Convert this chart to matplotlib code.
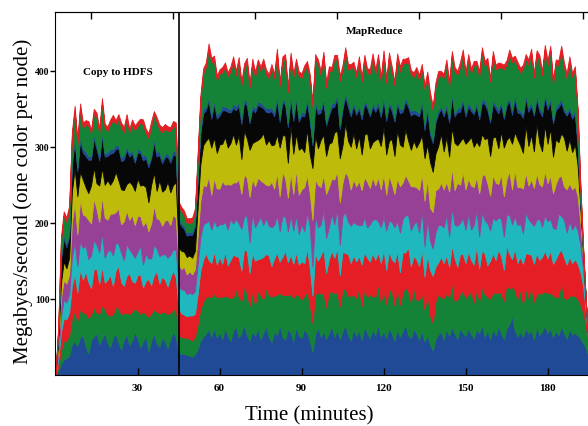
import matplotlib
matplotlib.use("Agg")
import matplotlib.pyplot as plt
import numpy as np

plt.rcParams['font.family'] = ['Liberation Serif', 'DejaVu Serif']

# time axis, one sample per minute
minutes = np.arange(200)

# throughput per node (MB/s), bottom layer first
node1 = [0, 4, 14, 20, 22, 25, 40, 44, 38, 50,
         52, 38, 28, 46, 50, 55, 40, 47, 56, 42,
         36, 49, 54, 43, 33, 47, 53, 39, 45, 56,
         48, 36, 44, 51, 31, 45, 54, 41, 37, 49,
         44, 35, 47, 56, 50, 30, 27, 28, 26, 25,
         24, 27, 34, 45, 50, 54, 60, 50, 62, 49,
         56, 47, 61, 52, 44, 58, 63, 49, 55, 66,
         52, 45, 58, 51, 61, 47, 55, 64, 50, 43,
         57, 52, 66, 50, 46, 60, 55, 44, 63, 52,
         48, 60, 55, 45, 30, 53, 62, 50, 57, 47,
         55, 64, 50, 59, 47, 57, 66, 52, 45, 60,
         51, 58, 46, 63, 55, 48, 60, 52, 65, 50,
         57, 48, 62, 54, 45, 60, 50, 57, 66, 52,
         48, 60, 55, 46, 58, 44, 52, 40, 32, 47,
         53, 57, 46, 60, 51, 63, 54, 47, 61, 55,
         51, 62, 53, 48, 60, 55, 66, 50, 58, 47,
         60, 52, 64, 55, 47, 61, 66, 78, 58, 50,
         57, 49, 62, 54, 59, 46, 63, 52, 57, 65,
         54, 61, 49, 58, 52, 64, 55, 47, 60, 53,
         55, 52, 48, 42, 35, 24, 12, 4, 0, 0]
node2 = [0, 6, 18, 24, 23, 27, 35, 40, 33, 37,
         30, 43, 47, 33, 39, 27, 40, 44, 31, 37,
         42, 30, 36, 44, 47, 34, 28, 41, 38, 31,
         37, 44, 39, 29, 45, 36, 32, 42, 44, 33,
         39, 45, 34, 29, 38, 24, 22, 21, 23, 22,
         21, 23, 32, 42, 46, 48, 43, 52, 45, 53,
         47, 55, 43, 51, 57, 44, 50, 54, 42, 51,
         55, 46, 52, 41, 50, 58, 44, 51, 55, 60,
         47, 53, 42, 55, 59, 45, 51, 57, 43, 52,
         51, 44, 55, 48, 38, 53, 46, 57, 50, 42,
         53, 46, 57, 50, 43, 55, 48, 52, 59, 45,
         50, 57, 44, 52, 47, 58, 43, 51, 55, 46,
         52, 45, 50, 57, 46, 54, 42, 52, 49, 58,
         47, 55, 44, 52, 50, 42, 55, 38, 36, 50,
         53, 45, 55, 47, 51, 58, 43, 52, 46, 56,
         50, 44, 57, 47, 53, 42, 50, 56, 45, 53,
         48, 56, 44, 53, 50, 58, 47, 38, 53, 50,
         55, 44, 52, 47, 58, 50, 42, 56, 50, 45,
         53, 47, 56, 44, 51, 58, 47, 52, 44, 51,
         49, 48, 45, 40, 30, 12, 3, 1, 0, 0]
node3 = [0, 9, 24, 30, 28, 30, 42, 48, 37, 52,
         43, 55, 47, 35, 50, 57, 40, 51, 34, 46,
         53, 38, 47, 56, 42, 36, 49, 54, 40, 34,
         46, 52, 32, 43, 50, 37, 45, 53, 39, 47,
         42, 36, 47, 52, 40, 34, 32, 30, 28, 31,
         33, 30, 40, 50, 55, 58, 48, 45, 55, 43,
         52, 44, 58, 41, 50, 56, 43, 52, 40, 49,
         55, 43, 50, 58, 41, 48, 56, 44, 52, 40,
         49, 56, 41, 50, 58, 43, 52, 45, 55, 41,
         50, 43, 56, 48, 36, 53, 42, 50, 58, 45,
         44, 53, 47, 57, 41, 50, 46, 55, 43, 52,
         48, 41, 55, 46, 52, 43, 57, 48, 41, 51,
         55, 45, 50, 41, 57, 48, 43, 52, 46, 58,
         48, 41, 53, 45, 57, 43, 50, 60, 62, 45,
         42, 53, 46, 50, 40, 49, 56, 43, 52, 48,
         46, 56, 41, 50, 57, 43, 48, 53, 41, 50,
         52, 43, 57, 48, 41, 51, 46, 36, 55, 47,
         43, 53, 46, 58, 41, 50, 55, 43, 48, 53,
         46, 55, 41, 50, 57, 43, 52, 46, 51, 43,
         48, 46, 42, 35, 18, 4, 0, 0, 0, 0]
node4 = [0, 8, 20, 25, 22, 24, 38, 42, 35, 37,
         42, 34, 30, 43, 38, 32, 41, 45, 33, 38,
         33, 40, 37, 29, 39, 34, 42, 31, 37, 33,
         31, 38, 30, 36, 27, 35, 40, 30, 36, 29,
         34, 38, 30, 28, 36, 30, 31, 33, 29, 30,
         28, 30, 38, 44, 47, 40, 52, 44, 41, 50,
         43, 52, 39, 47, 54, 41, 49, 44, 55, 42,
         47, 40, 52, 44, 49, 55, 42, 47, 39, 51,
         44, 49, 40, 53, 46, 41, 51, 44, 49, 40,
         49, 42, 47, 54, 38, 50, 44, 40, 52, 46,
         42, 49, 44, 52, 40, 47, 54, 42, 49, 44,
         49, 41, 52, 46, 40, 49, 44, 54, 41, 47,
         44, 52, 41, 49, 46, 40, 52, 44, 49, 42,
         47, 42, 50, 44, 52, 40, 47, 38, 36, 45,
         49, 42, 47, 53, 40, 49, 44, 54, 41, 47,
         44, 50, 40, 52, 46, 42, 50, 44, 55, 40,
         47, 52, 42, 49, 44, 40, 52, 46, 42, 50,
         44, 40, 53, 46, 42, 50, 44, 54, 40, 47,
         49, 42, 47, 40, 52, 44, 50, 42, 47, 44,
         46, 44, 35, 22, 8, 1, 0, 0, 0, 0]
node5 = [0, 8, 25, 25, 25, 26, 46, 52, 42, 55,
         44, 39, 52, 42, 55, 47, 40, 48, 53, 41,
         48, 55, 40, 47, 37, 51, 44, 39, 50, 43,
         47, 39, 51, 43, 36, 46, 52, 40, 48, 38,
         44, 50, 39, 46, 42, 28, 27, 30, 26, 28,
         26, 29, 38, 48, 52, 48, 58, 46, 56, 50,
         47, 57, 49, 60, 45, 54, 48, 58, 46, 56,
         50, 60, 46, 54, 58, 48, 56, 44, 53, 60,
         48, 56, 46, 59, 50, 44, 57, 48, 60, 52,
         46, 58, 50, 44, 62, 48, 56, 50, 46, 58,
         53, 46, 59, 50, 56, 44, 53, 60, 48, 56,
         50, 58, 46, 53, 60, 48, 56, 44, 58, 50,
         56, 47, 59, 50, 44, 56, 61, 48, 53, 46,
         58, 50, 45, 56, 48, 60, 53, 44, 48, 56,
         48, 56, 50, 44, 59, 53, 46, 57, 50, 61,
         53, 46, 58, 50, 44, 57, 48, 61, 53, 46,
         56, 50, 44, 59, 53, 47, 57, 46, 61, 50,
         48, 59, 53, 44, 57, 50, 61, 46, 53, 58,
         50, 57, 46, 59, 48, 53, 44, 57, 50, 53,
         50, 45, 30, 15, 4, 1, 0, 0, 0, 0]
node6 = [0, 8, 20, 25, 20, 22, 40, 45, 50, 36,
         46, 38, 35, 50, 41, 34, 48, 37, 43, 52,
         38, 44, 53, 37, 46, 41, 35, 50, 40, 45,
         49, 40, 54, 45, 38, 51, 43, 36, 52, 45,
         41, 50, 43, 39, 47, 22, 24, 20, 23, 21,
         22, 24, 38, 48, 52, 60, 51, 62, 53, 47,
         58, 49, 63, 48, 55, 64, 50, 58, 46, 57,
         52, 62, 47, 59, 50, 56, 65, 53, 60, 48,
         58, 50, 64, 48, 56, 46, 62, 53, 47, 59,
         55, 46, 60, 51, 68, 57, 48, 62, 53, 50,
         57, 48, 62, 53, 58, 49, 64, 47, 56, 61,
         50, 59, 47, 56, 64, 52, 46, 60, 51, 57,
         62, 53, 46, 59, 50, 64, 55, 47, 60, 52,
         48, 60, 52, 63, 50, 56, 46, 60, 53, 48,
         56, 64, 50, 59, 46, 53, 62, 49, 57, 45,
         60, 50, 64, 53, 47, 62, 55, 46, 60, 52,
         50, 60, 47, 56, 64, 52, 45, 60, 50, 63,
         55, 47, 62, 52, 59, 48, 65, 54, 46, 60,
         52, 62, 48, 59, 46, 56, 64, 51, 58, 49,
         55, 40, 20, 6, 1, 0, 0, 0, 0, 0]
node7 = [0, 10, 30, 30, 28, 28, 36, 35, 33, 42,
         35, 41, 44, 34, 38, 45, 33, 42, 37, 32,
         41, 36, 30, 42, 37, 40, 45, 33, 41, 37,
         34, 43, 32, 38, 46, 35, 40, 45, 33, 37,
         42, 33, 39, 40, 35, 34, 33, 30, 28, 27,
         30, 32, 35, 40, 42, 40, 48, 38, 44, 45,
         38, 44, 35, 47, 40, 34, 45, 39, 46, 38,
         43, 35, 45, 38, 46, 41, 33, 43, 36, 45,
         37, 46, 34, 44, 40, 47, 36, 43, 45, 37,
         42, 47, 36, 44, 30, 41, 45, 36, 43, 40,
         37, 45, 34, 43, 38, 47, 35, 44, 40, 36,
         44, 36, 46, 40, 33, 42, 47, 37, 43, 38,
         35, 44, 47, 37, 45, 34, 41, 46, 37, 44,
         45, 36, 43, 34, 42, 37, 45, 36, 38, 41,
         42, 33, 46, 38, 45, 41, 35, 44, 39, 47,
         36, 45, 34, 43, 47, 35, 41, 46, 36, 44,
         44, 37, 46, 35, 38, 45, 47, 38, 44, 35,
         42, 46, 36, 45, 38, 47, 33, 42, 46, 37,
         45, 35, 44, 38, 46, 40, 34, 46, 38, 44,
         40, 25, 8, 2, 0, 0, 0, 0, 0, 0]
node8 = [0, 3, 5, 5, 5, 5, 5, 5, 5, 5,
         5, 6, 5, 4, 5, 5, 6, 5, 4, 5,
         6, 5, 5, 4, 5, 6, 5, 5, 4, 5,
         5, 4, 6, 5, 5, 4, 5, 6, 5, 5,
         4, 5, 5, 6, 5, 4, 4, 4, 4, 4,
         4, 4, 5, 5, 6, 5, 5, 6, 5, 5,
         5, 6, 5, 5, 4, 6, 5, 5, 6, 5,
         5, 4, 5, 6, 5, 5, 4, 5, 6, 5,
         6, 5, 5, 4, 5, 6, 5, 5, 4, 5,
         5, 5, 6, 5, 4, 5, 6, 5, 5, 4,
         5, 6, 5, 5, 4, 5, 5, 6, 5, 5,
         4, 5, 6, 5, 5, 4, 5, 5, 6, 5,
         5, 5, 4, 6, 5, 5, 6, 4, 5, 5,
         6, 5, 5, 4, 5, 6, 5, 5, 4, 5,
         5, 4, 5, 6, 5, 5, 4, 5, 6, 5,
         5, 6, 5, 4, 5, 5, 6, 5, 5, 4,
         5, 5, 6, 5, 4, 5, 5, 6, 5, 5,
         4, 5, 5, 6, 5, 4, 5, 5, 6, 5,
         5, 6, 4, 5, 5, 6, 5, 4, 5, 5,
         5, 5, 4, 2, 0, 0, 0, 0, 0, 0]
node9 = [0, 5, 20, 25, 28, 30, 32, 36, 30, 37,
         28, 35, 40, 31, 27, 37, 30, 38, 34, 28,
         33, 38, 28, 35, 40, 30, 36, 27, 34, 38,
         30, 36, 41, 28, 34, 38, 31, 40, 29, 36,
         34, 29, 37, 31, 33, 16, 15, 14, 13, 12,
         13, 14, 25, 40, 46, 52, 64, 68, 52, 46,
         50, 44, 52, 42, 50, 56, 41, 52, 45, 40,
         51, 43, 55, 41, 50, 42, 54, 45, 39, 52,
         44, 55, 42, 50, 56, 40, 49, 53, 43, 55,
         45, 56, 41, 52, 47, 55, 60, 44, 56, 46,
         53, 43, 57, 46, 60, 48, 55, 44, 58, 47,
         46, 57, 44, 55, 41, 52, 59, 45, 55, 42,
         55, 45, 58, 47, 43, 56, 49, 60, 45, 54,
         49, 43, 52, 44, 41, 48, 40, 44, 39, 42,
         45, 40, 46, 52, 42, 49, 55, 44, 53, 58,
         48, 56, 45, 60, 49, 52, 61, 46, 57, 50,
         58, 47, 54, 45, 61, 49, 56, 63, 47, 55,
         50, 60, 47, 56, 64, 46, 54, 62, 48, 58,
         53, 62, 47, 57, 50, 63, 54, 45, 60, 50,
         52, 40, 15, 3, 1, 0, 0, 0, 0, 0]
node10 = [0, 4, 6, 6, 6, 6, 6, 7, 6, 6,
          7, 6, 6, 5, 7, 6, 6, 7, 5, 6,
          6, 7, 5, 6, 6, 7, 6, 5, 7, 6,
          6, 5, 7, 6, 6, 7, 5, 6, 6, 7,
          6, 6, 5, 7, 6, 6, 6, 6, 6, 6,
          6, 6, 6, 6, 7, 6, 7, 6, 7, 6,
          6, 7, 6, 5, 7, 6, 6, 7, 5, 6,
          7, 6, 6, 7, 5, 6, 7, 6, 6, 5,
          6, 7, 5, 6, 6, 7, 6, 5, 7, 6,
          6, 6, 7, 5, 6, 7, 6, 6, 5, 7,
          7, 5, 6, 6, 7, 6, 5, 7, 6, 6,
          6, 7, 6, 5, 6, 7, 6, 6, 7, 5,
          6, 6, 7, 6, 5, 6, 7, 6, 6, 7,
          5, 6, 6, 7, 6, 5, 6, 7, 6, 6,
          7, 6, 5, 6, 7, 6, 6, 5, 7, 6,
          6, 7, 6, 6, 5, 7, 6, 6, 7, 5,
          6, 6, 7, 5, 6, 6, 7, 6, 5, 7,
          6, 5, 6, 7, 6, 6, 5, 7, 6, 6,
          7, 6, 6, 5, 7, 6, 6, 7, 6, 5,
          6, 6, 5, 3, 2, 1, 1, 0, 0, 0]

nodes = [node1, node2, node3, node4, node5, node6, node7, node8, node9, node10]
for n in nodes:
    assert len(n) == len(minutes)

# classic b g r c m y k cycle, as printed
colors = ['#214A96', '#148237', '#E41E24', '#1EB8BE', '#964196',
          '#BEBB0A', '#070707', '#214A96', '#148237', '#E41E24']

xticks = [30, 60, 90, 120, 150, 180]
yticks = [100, 200, 300, 400]
top_ticks = [13, 43, 73, 103, 133, 163, 193]

fig = plt.figure(figsize=(5.88, 4.27), dpi=100)
# axes run past the right edge of the figure, like the cropped original
ax = fig.add_axes([55.5 / 588, 51.3 / 427, 546.7 / 588, 362.4 / 427])

polys = ax.stackplot(minutes, *nodes, colors=colors)
for p, c in zip(polys, colors):
    p.set_edgecolor(c)
    p.set_linewidth(0.6)

ax.axvline(45, color='black', lw=1.2)

ax.text(23, 399, 'Copy to HDFS', ha='center', va='center',
        fontsize=8, fontweight='bold')
ax.text(116.8, 453, 'MapReduce', ha='center', va='center',
        fontsize=8, fontweight='bold')

ax.set_xlim(0, 200)
ax.set_ylim(0, 477)
ax.set_xticks(xticks)
ax.set_xticklabels([str(v) for v in xticks], fontsize=8, fontweight='bold')
ax.set_yticks(yticks)
ax.set_yticklabels([str(v) for v in yticks], fontsize=7, fontweight='bold')
ax.tick_params(axis='x', direction='in', length=5, width=1, pad=6)
ax.tick_params(axis='y', direction='out', length=3.6, width=1, pad=0.7)

sec = ax.secondary_xaxis('top')
sec.set_xticks(top_ticks)
sec.set_xticklabels([])
sec.tick_params(direction='in', length=5, width=1)

ax.set_xlabel('Time (minutes)', fontsize=15)
ax.xaxis.set_label_coords(0.4637, -0.083)
ax.set_ylabel('Megabyes/second (one color per node)', fontsize=15)
ax.yaxis.set_label_coords(-0.042, 0.4807)

fig.savefig('out.png', dpi=100)
